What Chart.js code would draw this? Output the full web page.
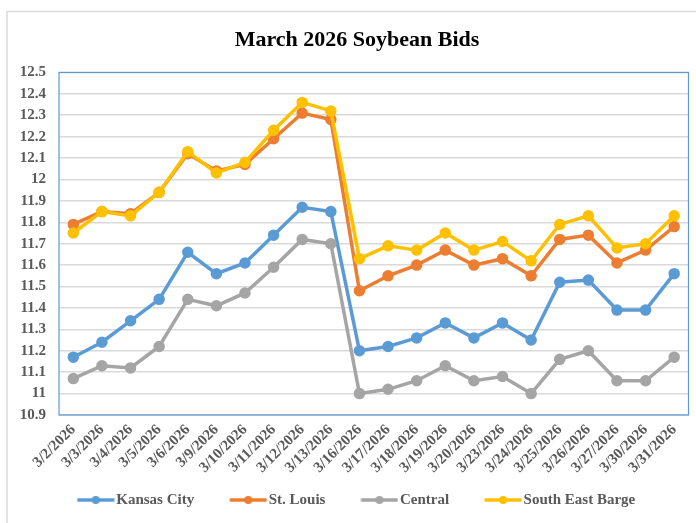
<!DOCTYPE html>
<html>
<head>
<meta charset="utf-8">
<script src="https://cdn.jsdelivr.net/npm/chart.js@4/dist/chart.umd.min.js"></script>
<style>
    html, body { margin: 0; padding: 0; background: #fff; }
    #wrap { position: relative; width: 696px; height: 523px; }
</style>
</head>
<body>
<div id="wrap"><canvas id="soyChart"></canvas></div>
<script>
// Datos de la gráfica
const categories = ['3/2/2026', '3/3/2026', '3/4/2026', '3/5/2026', '3/6/2026', '3/9/2026', '3/10/2026',
    '3/11/2026', '3/12/2026', '3/13/2026', '3/16/2026', '3/17/2026', '3/18/2026', '3/19/2026', '3/20/2026',
    '3/23/2026', '3/24/2026', '3/25/2026', '3/26/2026', '3/27/2026', '3/30/2026', '3/31/2026'];
const kansasCity = [11.17, 11.24, 11.34, 11.44, 11.66, 11.56, 11.61, 11.74, 11.87, 11.85, 11.20,
    11.22, 11.26, 11.33, 11.26, 11.33, 11.25, 11.52, 11.53, 11.39, 11.39, 11.56];
const stLouis = [11.79, 11.85, 11.84, 11.94, 12.12, 12.04, 12.07, 12.19, 12.31, 12.28, 11.48,
    11.55, 11.60, 11.67, 11.60, 11.63, 11.55, 11.72, 11.74, 11.61, 11.67, 11.78];
const central = [11.07, 11.13, 11.12, 11.22, 11.44, 11.41, 11.47, 11.59, 11.72, 11.70, 11.00,
    11.02, 11.06, 11.13, 11.06, 11.08, 11.00, 11.16, 11.20, 11.06, 11.06, 11.17];
const southEastBarge = [11.75, 11.85, 11.83, 11.94, 12.13, 12.03, 12.08, 12.23, 12.36, 12.32, 11.63,
    11.69, 11.67, 11.75, 11.67, 11.71, 11.62, 11.79, 11.83, 11.68, 11.70, 11.83];
const yTickValues = [10.9, 11, 11.1, 11.2, 11.3, 11.4, 11.5, 11.6, 11.7, 11.8, 11.9, 12, 12.1, 12.2, 12.3, 12.4, 12.5];

const serif = "'Liberation Serif', 'Times New Roman', serif";
const textGray = '#595959';

// marcador de leyenda: línea con punto al centro
function legendMarker(color) {
    const c = document.createElement('canvas');
    c.width = 42;
    c.height = 12;
    const ctx = c.getContext('2d');
    ctx.strokeStyle = color;
    ctx.lineWidth = 3.5;
    ctx.beginPath();
    ctx.moveTo(4.5, 6);
    ctx.lineTo(41.5, 6);
    ctx.stroke();
    ctx.fillStyle = color;
    ctx.beginPath();
    ctx.arc(23, 6, 4, 0, Math.PI * 2);
    ctx.fill();
    return c;
}

function serie(label, data, color, order) {
    return {
        label: label,
        data: data,
        borderColor: color,
        backgroundColor: color,
        pointBackgroundColor: color,
        pointBorderColor: color,
        borderWidth: 3.5,
        pointRadius: 4,
        pointHoverRadius: 4,
        tension: 0,
        order: order
    };
}

// las etiquetas salen de la caja del eje, sin recorte
function noLabelClip(scale) {
    scale._computeLabelArea = () => undefined;
}

const framePlugin = {
    id: 'frame',
    beforeDraw(chart) {
        const ctx = chart.ctx;
        ctx.save();
        ctx.fillStyle = '#fff';
        ctx.fillRect(0, 0, chart.width, chart.height);
        ctx.strokeStyle = '#d9d9d9';
        ctx.lineWidth = 1.5;
        ctx.beginPath();
        ctx.moveTo(7, chart.height);
        ctx.lineTo(7, 11.5);
        ctx.lineTo(chart.width, 11.5);
        ctx.stroke();
        ctx.restore();
    },
    beforeDatasetsDraw(chart) {
        const a = chart.chartArea;
        const ctx = chart.ctx;
        ctx.save();
        ctx.strokeStyle = '#5b9bd5';
        ctx.lineWidth = 1.2;
        ctx.strokeRect(a.left, a.top, a.right - a.left, a.bottom - a.top);
        ctx.restore();
    }
};

document.addEventListener('DOMContentLoaded', () => {
    const canvas = document.getElementById('soyChart');
    new Chart(canvas.getContext('2d'), {
        type: 'line',
        data: {
            labels: categories,
            datasets: [
                serie('Kansas City', kansasCity, '#5b9bd5', 3),
                serie('St. Louis', stLouis, '#ed7d31', 2),
                serie('Central', central, '#a5a5a5', 1),
                serie('South East Barge', southEastBarge, '#ffc000', 0)
            ]
        },
        options: {
            responsive: true,
            maintainAspectRatio: false,
            animation: false,
            layout: { padding: { left: 23, right: 5, top: 0, bottom: 5.5 } },
            plugins: {
                title: {
                    display: true,
                    text: 'March 2026 Soybean Bids',
                    color: '#000',
                    font: { family: serif, size: 22, weight: 'bold' },
                    padding: { top: 27, bottom: 19 }
                },
                legend: {
                    position: 'bottom',
                    labels: {
                        usePointStyle: true,
                        pointStyleWidth: 30,
                        padding: 37,
                        color: textGray,
                        font: { family: serif, size: 15, weight: 'bold' },
                        generateLabels(chart) {
                            return chart.data.datasets.map((ds, i) => ({
                                text: ds.label,
                                fillStyle: ds.borderColor,
                                strokeStyle: ds.borderColor,
                                fontColor: textGray,
                                lineWidth: 0,
                                pointStyle: legendMarker(ds.borderColor),
                                hidden: !chart.isDatasetVisible(i),
                                datasetIndex: i
                            }));
                        }
                    }
                },
                tooltip: { enabled: false }
            },
            scales: {
                x: {
                    offset: true,
                    grid: { display: false, drawTicks: false },
                    border: { display: false },
                    ticks: {
                        autoSkip: false,
                        minRotation: 45,
                        maxRotation: 45,
                        padding: 6,
                        color: textGray,
                        font: { family: serif, size: 15, weight: 'bold' }
                    },
                    afterFit(scale) {
                        scale.height = 40.5;
                        noLabelClip(scale);
                    }
                },
                y: {
                    min: 10.9,
                    max: 12.5,
                    grid: { color: '#d9d9d9', lineWidth: 1.5, drawTicks: false },
                    border: { display: false },
                    ticks: {
                        padding: 13,
                        color: textGray,
                        font: { family: serif, size: 15, weight: 'bold' },
                        callback: v => String(Math.round(v * 10) / 10)
                    },
                    afterBuildTicks(scale) {
                        scale.ticks = yTickValues.map(v => ({ value: v }));
                    },
                    afterFit(scale) {
                        scale.width = 36;
                        noLabelClip(scale);
                    }
                }
            }
        },
        plugins: [framePlugin]
    });
});
</script>
</body>
</html>
